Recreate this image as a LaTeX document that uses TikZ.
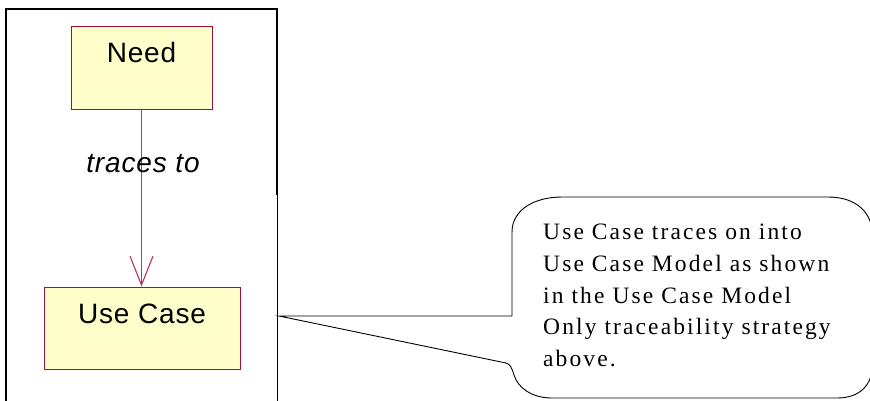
\documentclass[tikz,border=0pt]{standalone}
\usepackage{fontspec}
\setmainfont{Liberation Sans}
\newfontfamily\notefont[LetterSpace=9]{Liberation Serif}
\newfontfamily\umlfont[LetterSpace=3]{Liberation Sans}
\usetikzlibrary{arrows.meta}
\definecolor{boxfill}{HTML}{FFFFCC}
\definecolor{boxline}{HTML}{A0103A}
\definecolor{linkline}{HTML}{B8336A}
\begin{document}
\begin{tikzpicture}[x=1pt,y=-1pt,
  umlbox/.style={draw=boxline, fill=boxfill, line width=0.8pt, inner sep=0pt,
    font=\umlfont\fontsize{28}{30}\selectfont, text height=36pt},
  tracelink/.style={draw=linkline, line width=1.2pt,
    -{Straight Barb[length=29pt, width=23pt, line width=1.1pt]}},
  tracelabel/.style={font=\umlfont\itshape\fontsize{28}{30}\selectfont, inner sep=0pt},
  notetext/.style={font=\notefont\fontsize{23.5}{31.7}\selectfont, align=left, inner sep=0pt},
  callout/.style={draw=black, line width=0.9pt}
]
\useasboundingbox (0,0) rectangle (870,400);
% frame
\draw[line width=1.6pt] (6,402) -- (6,9) -- (277,9) -- (277,195);
\draw[line width=1pt] (277,194) -- (277,402);
% boxes
\node[umlbox, minimum width=141pt, minimum height=83pt, text depth=47pt] (need) at (141.5,67.5) {Need};
\node[umlbox, minimum width=196pt, minimum height=82pt, text depth=46pt] (usecase) at (142,328) {Use Case};
% trace link
\draw[tracelink] (need.south) -- node[tracelabel, pos=0.354, anchor=base, xshift=1.5pt] {traces to} (need.south |- usecase.north);
% callout
\coordinate (tip) at (279,316);
\draw[callout] (562,197) -- (828,197)
  .. controls (856,197) and (873,212) .. (873,238) -- (873,362)
  .. controls (873,385) and (860,398) .. (837,398) -- (552,398)
  .. controls (532,398) and (518,388) .. (514,375)
  .. controls (512,368) and (510,364) .. (506,363) -- (tip) -- (512,316) -- (512,232)
  .. controls (512,210) and (534,197) .. (562,197) -- cycle;
\node[notetext, anchor=north west] (note) at (543,224)
  {Use Case traces on into\\Use Case Model as shown\\in the Use Case Model\\Only traceability strategy\\above.};
\end{tikzpicture}
\end{document}
